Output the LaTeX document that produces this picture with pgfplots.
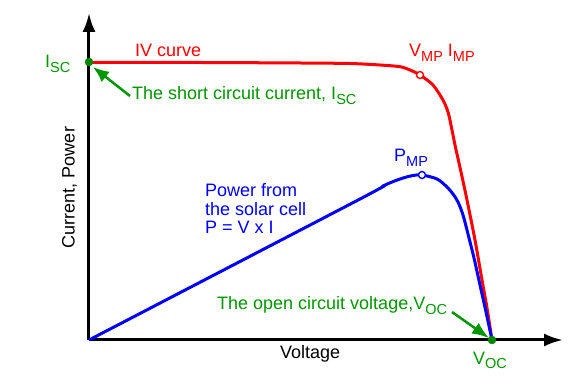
\documentclass[border=0pt]{standalone}
\usepackage{pgfplots}
\pgfplotsset{compat=1.18}
\usetikzlibrary{arrows.meta}
\usepackage{fontspec}
\setmainfont{Liberation Sans}
\definecolor{gtext}{RGB}{0,150,0}
\definecolor{gdot}{RGB}{0,135,0}
\newcommand\sub[1]{\raisebox{-5pt}{\fontsize{14.5}{15}\selectfont #1}}
\begin{document}
\fontsize{18}{21}\selectfont
\begin{tikzpicture}
\useasboundingbox (-89pt,-37pt) rectangle (494pt,340pt);
\begin{axis}[
  x=1pt, y=1pt,
  xmin=0, xmax=474, ymin=0, ymax=327,
  axis lines=left,
  axis line style={line width=3pt, -{Latex[length=19pt,width=13pt]}},
  xtick=\empty, ytick=\empty,
  clip=false,
  every node/.append style={font=\fontsize{18}{21}\selectfont},
]
% IV curve
\addplot[red, line width=3pt, smooth, tension=0.45] coordinates {
 (0,277.5) (111,277.5) (211,277) (261,276.5) (291,275) (311,273.3) (321,270) (331,265)
 (344,255) (354,240) (359,228) (362,215) (366,195) (372,168) (378,140) (386,100)
 (393,60) (398,32) (403,0)};
% Power curve
\addplot[blue, line width=3pt, smooth, tension=0.5] coordinates {
 (0,0) (271,141) (294,154) (311,161) (324,164.5) (333,165) (348,161) (358,153)
 (364,146) (369,138) (374,125) (379,106) (385,82) (391,55) (397,28) (403,0)};
% maximum power points
\addplot[only marks, mark=*, mark size=3.5pt, mark options={draw=red, fill=white, line width=1.4pt}] coordinates {(331,265)};
\addplot[only marks, mark=*, mark size=3.5pt, mark options={draw=blue, fill=white, line width=1.4pt}] coordinates {(333,165)};
% arrows
\draw[gtext, line width=2.5pt, -{Latex[length=16pt,width=13pt]}] (axis cs:41,244) -- (axis cs:4,273);
\draw[gtext, line width=2.5pt, -{Latex[length=17pt,width=13pt]}] (axis cs:363,28) -- (axis cs:400,2);
% Isc and Voc points
\addplot[only marks, mark=*, mark size=4pt, gdot] coordinates {(0,278) (403,0)};
% texts
\node[anchor=base west, red, inner sep=0] at (axis cs:46,283) {IV curve};
\node[anchor=base west, gtext, inner sep=0] at (axis cs:-44,272) {I\sub{SC}};
\node[anchor=base west, gtext, inner sep=0] at (axis cs:43,240) {The short circuit current, I\sub{SC}};
\node[anchor=base west, red, inner sep=0] at (axis cs:320,283) {V\sub{MP} I\sub{MP}};
\node[anchor=base west, blue, inner sep=0] at (axis cs:305,178) {P\sub{MP}};
\node[anchor=base west, blue, inner sep=0] at (axis cs:116,143.3) {Power from};
\node[anchor=base west, blue, inner sep=0] at (axis cs:116,124.3) {the solar cell};
\node[anchor=base west, blue, inner sep=0] at (axis cs:116,106) {P = V x I};
\node[anchor=base west, gtext, inner sep=0] at (axis cs:128,30) {The open circuit voltage,V\sub{OC}};
\node[anchor=base west, gtext, inner sep=0] at (axis cs:384,-24) {V\sub{OC}};
\node[anchor=base west, inner sep=0] at (axis cs:191,-19) {Voltage};
\node[rotate=90, inner sep=0] at (axis cs:-19.5,152.5) {Current, Power};
\end{axis}
\end{tikzpicture}
\end{document}
